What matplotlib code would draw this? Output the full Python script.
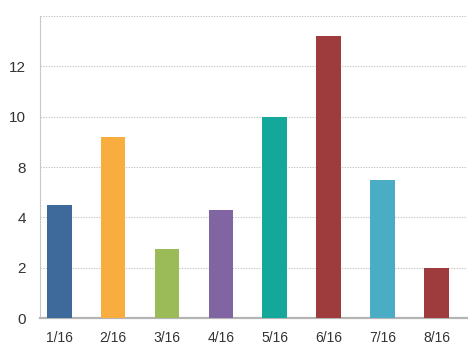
import matplotlib.pyplot as plt

# values (in gridline units)
months = ['1/16', '2/16', '3/16', '4/16', '5/16', '6/16', '7/16', '8/16']
values = [4.5, 7.2, 2.75, 4.3, 8.0, 11.2, 5.5, 2.0]
colors = ['#3D6A9B', '#F9AD3E', '#9BBB59', '#8165A3', '#13A89A',
          '#9E3B3C', '#4BACC6', '#9E3B3C']
ytick_pos = [0, 2, 4, 6, 8, 10]
ytick_labels = ['0', '2', '4', '8', '10', '12']

plt.rcParams['font.family'] = ['Liberation Sans', 'DejaVu Sans']

fig = plt.figure(figsize=(4.68, 3.59), dpi=100)
ax = fig.add_axes([0.0855, 0.1142, 0.912, 0.8412])

x = range(len(months))
ax.bar(x, values, width=0.46, color=colors, zorder=3)

ax.set_xlim(-0.355, 7.56)
ax.set_ylim(0, 12)
ax.set_yticks(ytick_pos)
ax.set_yticklabels(ytick_labels)
ax.set_xticks(list(x))
ax.set_xticklabels(months)

grid_style = dict(linestyle=(0, (1.2, 1.2)), color='#c4c4c4', linewidth=0.8, zorder=0)
ax.yaxis.grid(True, **grid_style)
ax.axhline(12, **grid_style)

for s in ['top', 'right']:
    ax.spines[s].set_visible(False)
ax.spines['left'].set_linestyle((0, (1.2, 1.2)))
ax.spines['left'].set_color('#c4c4c4')
ax.spines['left'].set_linewidth(0.8)
ax.spines['bottom'].set_color('#b4b4b4')
ax.spines['bottom'].set_linewidth(1.6)

ax.tick_params(axis='both', length=0, labelsize=11, colors='#333333')
ax.tick_params(axis='y', pad=10)
ax.tick_params(axis='x', pad=9, labelsize=10)

fig.savefig('out.png', dpi=100)
